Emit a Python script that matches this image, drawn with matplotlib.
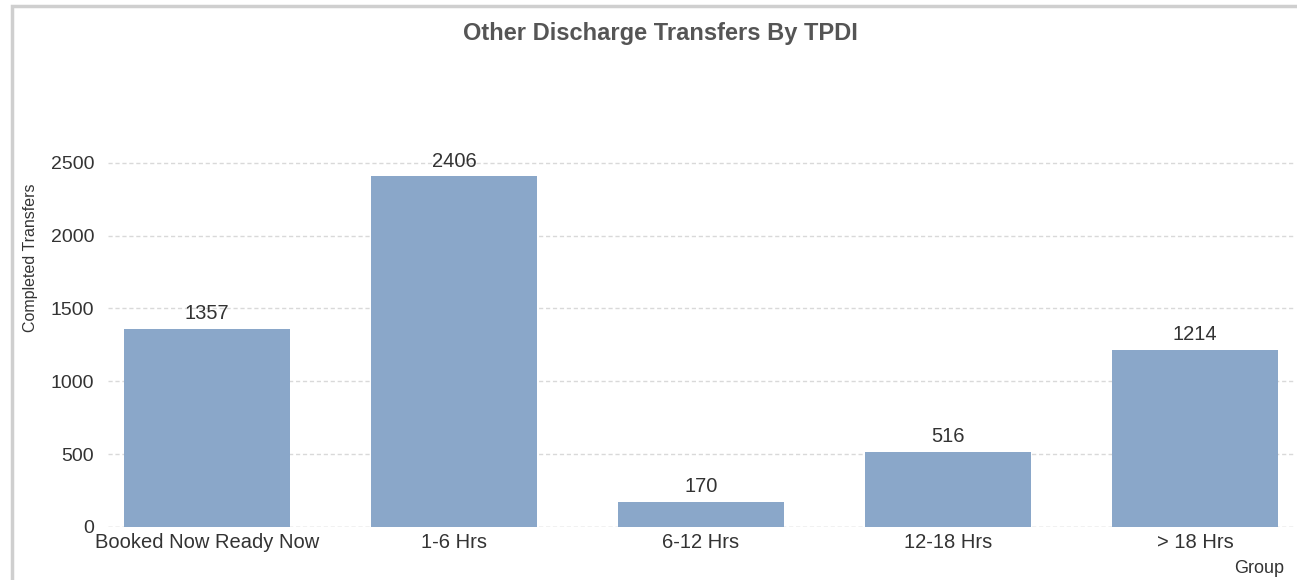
import matplotlib.pyplot as plt
from matplotlib.patches import Rectangle

groups = ['Booked Now Ready Now', '1-6 Hrs', '6-12 Hrs', '12-18 Hrs', '> 18 Hrs']
transfers = [1357, 2406, 170, 516, 1214]
yticks = [0, 500, 1000, 1500, 2000, 2500]

plt.rcParams['font.family'] = ['Liberation Sans', 'DejaVu Sans']

fig = plt.figure(figsize=(12.97, 5.80), dpi=100)
ax = fig.add_axes([0.0833, 0.0914, 0.9144, 0.7034])

# light gray frame round the whole chart
fig.patches.append(Rectangle((0.009, -0.01), 1.0, 1.0, transform=fig.transFigure,
                             fill=False, edgecolor='#cfcfcf', linewidth=2.5))

x = range(len(groups))
ax.bar(x, transfers, width=0.67, color='#8aa7c9', zorder=2)
for i, v in zip(x, transfers):
    ax.text(i, v + 40, str(v), ha='center', va='bottom', fontsize=14.5, color='#333333')

ax.set_xlim(-0.4, 4.4)
ax.set_ylim(0, 2800)
ax.set_yticks(yticks)
ax.set_xticks(list(x))
ax.set_xticklabels(groups)
ax.tick_params(axis='both', length=0, labelcolor='#333333')
ax.tick_params(axis='x', pad=4, labelsize=14.5)
ax.tick_params(axis='y', pad=10, labelsize=14)
ax.yaxis.grid(True, linestyle=(0, (3, 2)), color='#d9d9d9', linewidth=1, zorder=0)
for s in ax.spines.values():
    s.set_visible(False)
ax.axhline(0, color='#dddddd', linewidth=1, linestyle=(0, (3, 2)), zorder=1)

ax.set_ylabel('Completed Transfers', fontsize=11.5, color='#333333')
ax.yaxis.set_label_coords(-0.059, 0.66)

fig.text(0.509, 0.943, 'Other Discharge Transfers By TPDI', ha='center', va='center',
         fontsize=17, fontweight='bold', color='#555555')
fig.text(0.99, 0.005, 'Group', ha='right', va='bottom', fontsize=13, color='#333333')

fig.savefig('out.png', dpi=100)
